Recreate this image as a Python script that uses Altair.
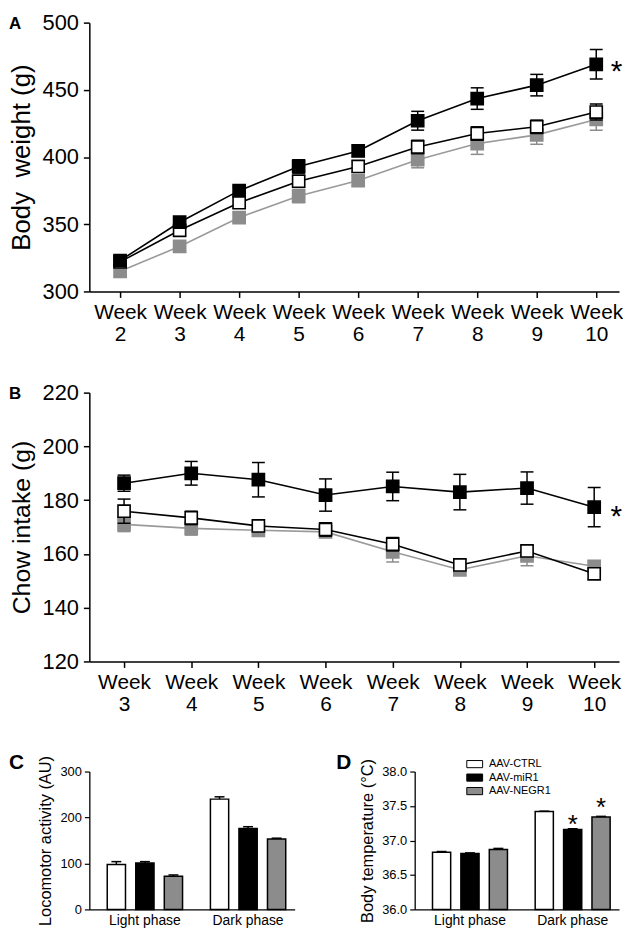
import altair as alt
import pandas as pd

FONT = "Liberation Sans"

# ---------------- data ----------------
GROUPS = ["AAV-CTRL", "AAV-miR1", "AAV-NEGR1"]
FILLS = ["white", "black", "#8c8c8c"]
STROKES = ["black", "black", "#8c8c8c"]
LINECOL = ["black", "black", "#9a9a9a"]

weeks_a = [2, 3, 4, 5, 6, 7, 8, 9, 10]
bw_ctrl = [322, 345.5, 366, 382, 393, 407.5, 417.5, 422.5, 433.5]
bw_ctrl_err = [3, 4, 4, 4, 4, 5, 5, 5, 6]
bw_mir1 = [323, 351.5, 375, 393, 404.5, 427, 443.5, 453.5, 469]
bw_mir1_err = [3, 3, 3, 5, 4, 7, 8, 8, 11]
bw_negr1 = [315, 333.5, 355, 371, 382.5, 398, 410, 416.5, 428]
bw_negr1_err = [3, 4, 4, 5, 4, 6, 8, 7, 8]

weeks_b = [3, 4, 5, 6, 7, 8, 9, 10]
ci_ctrl = [175.9, 173.4, 170.4, 169.1, 163.6, 155.9, 161.1, 152.6]
ci_ctrl_err = [4.5, 2.5, 2, 2.5, 2.5, 2, 2, 2]
ci_mir1 = [186.3, 190, 187.6, 181.9, 185.1, 183, 184.5, 177.4]
ci_mir1_err = [3, 4.4, 6.4, 6, 5.3, 6.6, 6, 7.3]
ci_negr1 = [171, 169.5, 168.8, 168.2, 160.8, 154.1, 159.3, 155.4]
ci_negr1_err = [2.7, 2.5, 2, 2, 3.8, 2, 3.7, 2]

PHASES = ["Light phase", "Dark phase"]
loco_light = [98, 101, 72]
loco_light_err = [6, 3, 3]
loco_dark = [240, 176, 153]
loco_dark_err = [5, 4, 2]

temp_light = [36.83, 36.81, 36.87]
temp_light_err = [0.01, 0.01, 0.015]
temp_dark = [37.42, 37.16, 37.34]
temp_dark_err = [0.005, 0.01, 0.01]

star_a = (10.34, 469)
star_b = (10.33, 176.5)
star_d_groups = ["AAV-miR1", "AAV-NEGR1"]
star_d_y = [37.32, 37.57]


def long_df(weeks, series, errs):
    rows = []
    for g, vals, es in zip(GROUPS, series, errs):
        for w, v, e in zip(weeks, vals, es):
            rows.append(dict(week=w, value=v, lo=v - e, hi=v + e, group=g))
    return pd.DataFrame(rows)


def line_panel(df, weeks, xdom, ydom, yvals, ytitle, tsize, width, height, letter, star):
    xs = alt.Scale(domain=xdom, nice=False, zero=False)
    ys = alt.Scale(domain=ydom, nice=False, zero=False)
    xax = alt.Axis(values=weeks, labelExpr="['Week', datum.value]", title=None,
                   labelFontSize=21, labelLineHeight=22, labelPadding=4,
                   tickSize=6, tickWidth=1.5, domainWidth=1.5, labelOverlap=False,
                   labelFlush=False, grid=False, labelAngle=0)
    yax = alt.Axis(values=yvals, title=ytitle, labelFontSize=22, labelPadding=5,
                   tickSize=6, tickWidth=1.5, domainWidth=1.5, grid=False,
                   titleFontSize=tsize, titlePadding=8, labelOverlap=False)
    layers = []
    for i in [2, 0, 1]:
        g = GROUPS[i]
        sub = alt.Chart(df).transform_filter(alt.datum.group == g)
        X = alt.X("week:Q", scale=xs, axis=xax)
        layers.append(sub.mark_rule(color=STROKES[i], strokeWidth=1.5).encode(
            x=X, y=alt.Y("lo:Q", scale=ys, axis=yax), y2="hi:Q"))
        for f in ["lo", "hi"]:
            layers.append(sub.mark_tick(orient="horizontal", size=13, thickness=1.5,
                                        color=STROKES[i], opacity=1).encode(
                x=X, y=alt.Y(f + ":Q", scale=ys, axis=yax)))
        layers.append(sub.mark_line(color=LINECOL[i], strokeWidth=1.6).encode(
            x=X, y=alt.Y("value:Q", scale=ys, axis=yax)))
        layers.append(sub.mark_square(size=150, fill=FILLS[i], stroke=STROKES[i],
                                      strokeWidth=1.6, opacity=1).encode(
            x=X, y=alt.Y("value:Q", scale=ys, axis=yax)))
    sdf = pd.DataFrame({"x": [star[0]], "y": [star[1]], "t": ["*"]})
    layers.append(alt.Chart(sdf).mark_text(fontSize=30, font=FONT, baseline="alphabetic",
                                           dy=17, color="black").encode(
        x=alt.X("x:Q", scale=xs, axis=xax), y=alt.Y("y:Q", scale=ys, axis=yax), text="t:N"))
    ldf = pd.DataFrame({"t": [letter]})
    layers.append(alt.Chart(ldf).mark_text(fontSize=17, fontWeight="bold", font=FONT,
                                           align="left", baseline="top").encode(
        x=alt.value(-81), y=alt.value(-7), text="t:N"))
    return alt.layer(*layers).properties(width=width, height=height)


def bar_df(lv, le, dv, de):
    rows = []
    for ph, vals, errs in [(PHASES[0], lv, le), (PHASES[1], dv, de)]:
        for g, v, e in zip(GROUPS, vals, errs):
            rows.append(dict(phase=ph, group=g, value=v, hi=v + e))
    return pd.DataFrame(rows)


def bar_panel(df, ydom, yvals, yfmt, ytitle, width, height, letter, letter_xy, legend, stars=None):
    X = alt.X("phase:N", sort=PHASES,
              scale=alt.Scale(paddingInner=0.27, paddingOuter=0.13, align=0.667),
              axis=alt.Axis(title=None, labelAngle=0, labelFontSize=14, ticks=False,
                            labelPadding=4, domainWidth=1.3, grid=False))
    XO = alt.XOffset("group:N", sort=GROUPS,
                     scale=alt.Scale(paddingInner=0.36, paddingOuter=0))
    ys = alt.Scale(domain=ydom, nice=False, zero=False)
    yax = alt.Axis(values=yvals, format=yfmt, title=ytitle, labelFontSize=13,
                   tickSize=5, labelPadding=3, domainWidth=1.3, tickWidth=1.2,
                   grid=False, titleFontSize=16.5, titlePadding=6)
    F = alt.Fill("group:N", sort=GROUPS, scale=alt.Scale(domain=GROUPS, range=FILLS),
                 legend=legend)
    base = alt.Chart(df)
    bars = base.mark_bar(stroke="black", strokeWidth=1.5).encode(
        x=X, xOffset=XO, y=alt.Y("value:Q", scale=ys, axis=yax), y2=alt.datum(ydom[0]), fill=F)
    err = base.mark_rule(color="black", strokeWidth=1.5).encode(
        x=X, xOffset=XO, y=alt.Y("value:Q", scale=ys, axis=yax), y2="hi:Q")
    cap = base.mark_tick(orient="horizontal", size=10, thickness=1.5, color="black",
                         opacity=1).encode(
        x=X, xOffset=XO, y=alt.Y("hi:Q", scale=ys, axis=yax))
    layers = [bars, err, cap]
    if stars is not None:
        layers.append(alt.Chart(stars).mark_text(fontSize=26, font=FONT, baseline="alphabetic",
                                                 dy=15, color="black").encode(
            x=X, xOffset=XO, y=alt.Y("y:Q", scale=ys, axis=yax), text="t:N"))
    ldf = pd.DataFrame({"t": [letter]})
    layers.append(alt.Chart(ldf).mark_text(fontSize=21, fontWeight="bold", font=FONT,
                                           align="left", baseline="top").encode(
        x=alt.value(letter_xy[0]), y=alt.value(letter_xy[1]), text="t:N"))
    return alt.layer(*layers).properties(width=width, height=height)


dfa = long_df(weeks_a, [bw_ctrl, bw_mir1, bw_negr1], [bw_ctrl_err, bw_mir1_err, bw_negr1_err])
dfb = long_df(weeks_b, [ci_ctrl, ci_mir1, ci_negr1], [ci_ctrl_err, ci_mir1_err, ci_negr1_err])

panel_a = line_panel(dfa, weeks_a, [1.483, 10.383], [300, 500], [300, 350, 400, 450, 500],
                     "Body\u00a0\u00a0weight (g)", 26, 534, 271, "A", star_a)
panel_b = line_panel(dfb, weeks_b, [2.483, 10.37], [120, 220], [120, 140, 160, 180, 200, 220],
                     "Chow intake (g)", 25, 534, 271, "B", star_b)

dfc = bar_df(loco_light, loco_light_err, loco_dark, loco_dark_err)
dfd = bar_df(temp_light, temp_light_err, temp_dark, temp_dark_err)
stars_d = pd.DataFrame({"phase": ["Dark phase"] * 2, "group": star_d_groups,
                        "y": star_d_y, "t": ["*", "*"]})

legend_d = alt.Legend(orient="none", legendX=54, legendY=-14, title=None,
                      symbolType="M-1.33,-0.6H1.33V0.6H-1.33Z", symbolSize=144,
                      symbolStrokeColor="black", symbolStrokeWidth=1,
                      labelFontSize=11, labelOffset=8, rowPadding=0.6, padding=0,
                      symbolOpacity=1)

panel_c = bar_panel(dfc, [0, 300], [0, 100, 200, 300], "d", "Locomotor activity (AU)",
                    207, 139, "C", (-81, -20), None)
panel_d = bar_panel(dfd, [36, 38], [36.0, 36.5, 37.0, 37.5, 38.0], ".1f",
                    "Body temperature (\u00b0C)", 206, 139, "D", (-79, -20), legend_d, stars_d)

row3 = alt.hconcat(panel_c, panel_d, spacing=42).resolve_scale(
    fill="independent", x="independent", y="independent", xOffset="independent")

chart = alt.ConcatChart(concat=[panel_a, panel_b, row3], columns=1, spacing=38,
                        align="none").resolve_scale(
    x="independent", y="independent").properties(
    padding={"left": 0, "top": 0, "right": 0, "bottom": 0}
).configure(font=FONT).configure_view(stroke=None).configure_axis(
    domainColor="black", tickColor="black", labelColor="black", titleColor="black",
    titleFontWeight="normal", labelFont=FONT, titleFont=FONT
).configure_legend(labelFont=FONT, labelColor="black")

chart.save("out.html", embed_options={"renderer": "svg", "actions": False})
